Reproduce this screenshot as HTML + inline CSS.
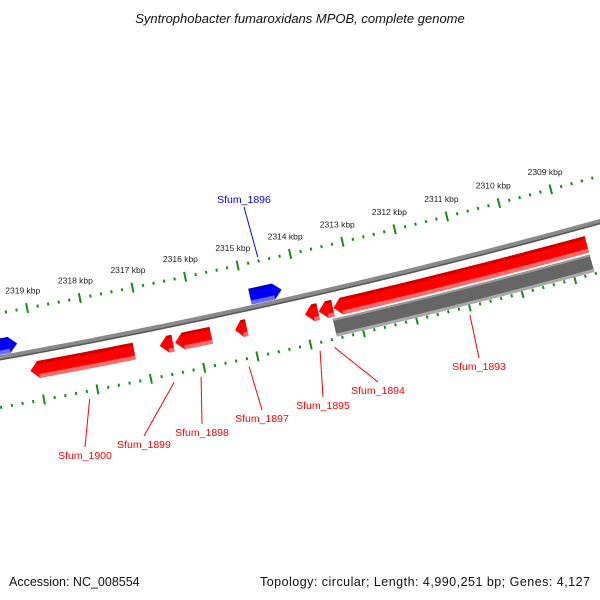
<!DOCTYPE html>
<html><head><meta charset="utf-8"><style>
html,body{margin:0;padding:0;background:#fff;}
svg{display:block;font-family:"Liberation Sans","DejaVu Sans",sans-serif;}
</style></head><body>
<svg id="map" width="600" height="600" viewBox="0 0 600 600" xmlns="http://www.w3.org/2000/svg">
<rect width="600" height="600" fill="#fff"/>
<text x="300" y="23" text-anchor="middle" font-size="13" font-style="italic" fill="#111">Syntrophobacter fumaroxidans MPOB, complete genome</text>
<g id="ticks"></g>
<g id="backbone"></g>
<g id="features"></g>
<g id="labels"></g>
<text x="9" y="586" font-size="12.5" fill="#111">Accession: NC_008554</text>
<text x="590" y="586" font-size="12.5" fill="#111" text-anchor="end" textLength="330">Topology: circular; Length: 4,990,251 bp; Genes: 4,127</text>
</svg>
<script>
// ---- data ----
const tickLabels = [2309,2310,2311,2312,2313,2314,2315,2316,2317,2318,2319];
const geneNames  = ["Sfum_1900","Sfum_1899","Sfum_1898","Sfum_1897","Sfum_1895","Sfum_1894","Sfum_1893","Sfum_1896","Sfum_1901"];
const geneStart  = [2317.20,2316.47,2315.75,2315.08,2313.73,2313.45,2308.62,2314.30,2319.30];
const geneEnd    = [2319.15,2316.72,2316.43,2315.30,2313.98,2313.72,2313.44,2314.90,2320.20];
const geneStrand = [-1,-1,-1,-1,-1,-1,-1,1,1];
const geneLabeled= [true,true,true,true,true,true,true,true,false];
const greyStart  = [2308.62];
const greyEnd    = [2313.50];
// layout (label line end points, not data)
const labelEnd = [[85,447],[144,436],[202,424],[262,410],[323,397],[378,382],[479,358],[244,207],[0,0]];

// ---- geometry ----
const NS="http://www.w3.org/2000/svg";
const CX=-1212, CY=-6372, RB=6838, RUP=6794, RLO=6887;
function phi(k){return (77.68+(k-2315)*0.453)*Math.PI/180;}
function P(k,r){const a=phi(k);return [CX+r*Math.cos(a),CY+r*Math.sin(a)];}
function mk(tag,attrs,parent){const e=document.createElementNS(NS,tag);for(const k in attrs)e.setAttribute(k,attrs[k]);parent.appendChild(e);return e;}
function arcPts(k1,k2,r,n){const pts=[];for(let i=0;i<=n;i++){pts.push(P(k1+(k2-k1)*i/n,r));}return pts;}
function ptsStr(p){return p.map(q=>q[0].toFixed(2)+","+q[1].toFixed(2)).join(" ");}

// ticks
const tg=document.getElementById('ticks');
for(let i=0;i<=65;i++){
  const k=2307.8+i*0.2;
  const major=Math.abs(k-Math.round(k))<1e-6;
  [RUP,RLO].forEach(r=>{
    const h=major?5:1.5;
    const a=P(k,r-h),b=P(k,r+h);
    const l=mk('line',{x1:a[0],y1:a[1],x2:b[0],y2:b[1],stroke:'#1a8a1a','stroke-width':2},tg);
    
    
  });
}
tickLabels.forEach(k=>{
  const p=P(k,RUP-18);
  const t=mk('text',{x:p[0]-1,y:p[1]+3,'text-anchor':'middle','font-size':'8.5',fill:'#222'},tg);
  t.textContent=k+" kbp";
  
  
});

// backbone
const bg=document.getElementById('backbone');
const bp=arcPts(2321,2307,RB,60);
const b1=mk('polyline',{points:ptsStr(bp),fill:'none',stroke:'#8a8a8a','stroke-width':5},bg);


const b2=mk('polyline',{points:ptsStr(arcPts(2321,2307,RB+2,60)),fill:'none',stroke:'#555','stroke-width':1.5},bg);



// features
const fg=document.getElementById('features');
function band(k1,k2,r1,r2,color,name){
  const p=arcPts(k1,k2,r1,12).concat(arcPts(k2,k1,r2,12));
  const e=mk('polygon',{points:ptsStr(p),fill:color},fg);
  
  
}
function gene(s,e,strand,r1,r2,cMain,cDark,cLight,name){
  const head=Math.min(0.15,(e-s)*0.6);
  let body1,body2,tip;
  if(strand<0){body1=s;body2=e-head;tip=e;}else{body1=s+head;body2=e;tip=s;}
  const mid=(r1+r2)/2;
  let pts=arcPts(body1,body2,r1,12);
  if(strand<0){pts=pts.concat([P(body2,r1),P(tip,mid),P(body2,r2)]).concat(arcPts(body2,body1,r2,12));}
  else{pts=pts.concat(arcPts(body2,body1,r2,12)).concat([P(body1,r2),P(tip,mid),P(body1,r1)]);}
  const g=mk('polygon',{points:ptsStr(pts),fill:cMain},fg);
  
  
  band(body1,body2,r1,r1+3,cDark,name+'-top-shade');
  band(body1,body2,r2-4,r2,cLight,name+'-bottom-shade');
}
greyStart.forEach((s,i)=>{
  band(s,greyEnd[i],RB+29,RB+47,'#666','grey-feature');
  band(s,greyEnd[i],RB+29,RB+31,'#999','grey-feature-top');
  band(s,greyEnd[i],RB+44,RB+47,'#aaa','grey-feature-bottom');
});
geneNames.forEach((n,i)=>{
  if(geneStrand[i]<0) gene(geneStart[i],geneEnd[i],-1,RB+10,RB+27,'#f00','#c00','#ff6a6a',n.toLowerCase().replace('_','-')+'-gene');
  else gene(geneStart[i],geneEnd[i],1,RB-19,RB-3,'#00f','#0000c0','#6a6aff',n.toLowerCase().replace('_','-')+'-gene');
});

// labels
const lg=document.getElementById('labels');
geneNames.forEach((n,i)=>{
  if(!geneLabeled[i])return;
  const m=(geneStart[i]+geneEnd[i])/2;
  const fwd=geneStrand[i]>0;
  const a=fwd?P(m,RB-48):P(m,RLO+8);
  const b=labelEnd[i];
  const col=fwd?'#00f':'#f00';
  const l=mk('line',{x1:a[0],y1:a[1],x2:b[0],y2:b[1],stroke:col,'stroke-width':1},lg);
  
  
  const t=mk('text',{x:b[0],y:fwd?b[1]-4:b[1]+12,'text-anchor':'middle','font-size':'10.5',fill:col},lg);
  t.textContent=n;
  
  
});
</script>
</body></html>
